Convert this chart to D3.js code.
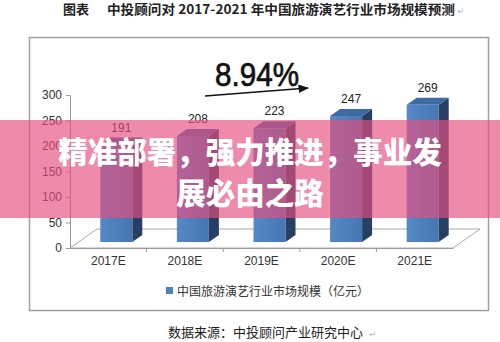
<!DOCTYPE html>
<html><head><meta charset="utf-8">
<script src="https://cdn.jsdelivr.net/npm/d3@7"></script>
<style>html,body{margin:0;padding:0;background:#fff;}svg{display:block;}</style>
</head><body>
<script>
const categories = ["2017E","2018E","2019E","2020E","2021E"];
const values = [191, 208, 223, 247, 269];
const yTicks = [0, 50, 100, 150, 200, 250, 300];
const titleLead = "图表";
const titleText = "中投顾问对 2017-2021 年中国旅游演艺行业市场规模预测";
const growthText = "8.94%";
const legendText = "中国旅游演艺行业市场规模（亿元）";
const sourceText = "数据来源：中投顾问产业研究中心";
const bannerLines = ["精准部署，强力推进，事业发", "展必由之路"];

const W = 500, H = 342;
const svg = d3.select("body").append("svg").attr("width", W).attr("height", H);

// frame
svg.append("rect").attr("x", 29.5).attr("y", 37.5).attr("width", 459).attr("height", 273)
  .attr("fill", "#fff").attr("stroke", "#a0a0a0").attr("stroke-width", 1.5);

// title
svg.append("text").attr("x", 63).attr("y", 14)
  .attr("font-family", "'Noto Sans CJK SC', sans-serif").attr("font-weight", 700)
  .attr("font-size", 13).attr("fill", "#222").text(titleLead);
svg.append("text").attr("x", 107).attr("y", 14)
  .attr("font-family", "'Noto Sans CJK SC', sans-serif").attr("font-weight", 700)
  .attr("font-size", 13).attr("fill", "#222").attr("textLength", 348).attr("lengthAdjust", "spacingAndGlyphs")
  .text(titleText);
svg.append("text").attr("x", 457).attr("y", 14).attr("font-size", 9).attr("fill", "#bbb")
  .attr("font-family", "'DejaVu Sans', sans-serif").text("↵");

// scales
const floorDx = 27, floorDy = -19;
const x = d3.scaleBand().domain(categories).range([70, 453]).padding(0);
const y = d3.scaleLinear().domain([0, 300]).range([248, 95]);
const barShiftX = 8, barShiftY = -6;
const barW = 32, capDx = 10, capDy = -7;

// y axis
const yAxis = svg.append("g").attr("transform", "translate(70,0)")
  .call(d3.axisLeft(y).tickValues(yTicks).tickSize(4).tickPadding(4));
yAxis.select(".domain").attr("stroke", "#999");
yAxis.selectAll(".tick line").attr("stroke", "#999");
yAxis.selectAll("text").attr("font-family", "'Liberation Sans', Arial, sans-serif")
  .attr("font-size", 12).attr("fill", "#333");

// floor
const floor = svg.append("g").attr("fill", "none").attr("stroke", "#aaa").attr("stroke-width", 1);
floor.append("path").attr("fill", "#fff").attr("d",
  `M${x.range()[0]},${y(0)} L${x.range()[1]},${y(0)} L${x.range()[1] + floorDx},${y(0) + floorDy} L${x.range()[0] + floorDx},${y(0) + floorDy} Z`);

// x axis ticks / labels
const xAxis = svg.append("g").attr("transform", `translate(0,${y(0)})`)
  .call(d3.axisBottom(x).tickSize(0).tickPadding(8));
xAxis.select(".domain").attr("stroke", "#999");
xAxis.selectAll("text").attr("font-family", "'Liberation Sans', Arial, sans-serif")
  .attr("font-size", 12).attr("fill", "#333");
svg.append("g").selectAll("line").data(categories.slice(1)).join("line")
  .attr("x1", d => x(d)).attr("x2", d => x(d)).attr("y1", y(0)).attr("y2", y(0) + 4)
  .attr("stroke", "#999");

// bars
const defs = svg.append("defs");
const g1 = defs.append("linearGradient").attr("id", "front").attr("x1", 0).attr("x2", 1);
g1.append("stop").attr("offset", 0).attr("stop-color", "#5589c6");
g1.append("stop").attr("offset", 1).attr("stop-color", "#4676b2");

const bars = svg.append("g");
categories.forEach((c, i) => {
  const v = values[i];
  const x0 = x(c) + x.bandwidth() / 2 - barW / 2 + barShiftX;
  const yb = y(0) + barShiftY;
  const yt = y(v) + barShiftY;
  const g = bars.append("g");
  g.append("path").attr("fill", "#263f63").attr("d",
    `M${x0 + barW},${yt} L${x0 + barW + capDx},${yt + capDy} L${x0 + barW + capDx},${yb + capDy} L${x0 + barW},${yb} Z`);
  g.append("path").attr("fill", "#3d6aa2").attr("d",
    `M${x0},${yt} L${x0 + capDx},${yt + capDy} L${x0 + barW + capDx},${yt + capDy} L${x0 + barW},${yt} Z`);
  g.append("rect").attr("x", x0).attr("y", yt).attr("width", barW).attr("height", yb - yt)
    .attr("fill", "url(#front)");
  svg.append("text").attr("x", x0 + barW / 2 + capDx / 2).attr("y", yt + capDy - 6)
    .attr("text-anchor", "middle").attr("font-family", "'Liberation Sans', Arial, sans-serif")
    .attr("font-size", 12).attr("fill", "#222").text(v);
});

// growth annotation
svg.append("text").attr("x", 215).attr("y", 86).attr("textLength", 84).attr("lengthAdjust", "spacingAndGlyphs")
  .attr("font-family", "'Liberation Sans', Arial, sans-serif").attr("font-size", 33)
  .attr("fill", "#111").attr("stroke", "#111").attr("stroke-width", 0.7).text(growthText);
defs.append("marker").attr("id", "arr").attr("viewBox", "0 0 10 10").attr("refX", 9).attr("refY", 5)
  .attr("markerWidth", 7).attr("markerHeight", 7).attr("orient", "auto")
  .append("path").attr("d", "M0,1 L10,5 L0,9 Z").attr("fill", "#111");
svg.append("line").attr("x1", 205).attr("y1", 96).attr("x2", 308).attr("y2", 88)
  .attr("stroke", "#111").attr("stroke-width", 1.5).attr("marker-end", "url(#arr)");

// legend
svg.append("rect").attr("x", 166).attr("y", 287).attr("width", 7).attr("height", 7).attr("fill", "#4f81bd");
svg.append("text").attr("x", 177).attr("y", 295.5)
  .attr("font-family", "'Noto Sans CJK SC', sans-serif").attr("font-size", 12).attr("fill", "#333")
  .text(legendText);

// source
svg.append("text").attr("x", 168).attr("y", 337)
  .attr("font-family", "'Noto Sans CJK SC', sans-serif").attr("font-size", 13).attr("fill", "#222")
  .text(sourceText);
svg.append("text").attr("x", 369).attr("y", 337).attr("font-size", 9).attr("fill", "#bbb")
  .attr("font-family", "'DejaVu Sans', sans-serif").text("↵");

// banner overlay
svg.append("rect").attr("x", 0).attr("y", 120).attr("width", W).attr("height", 98)
  .attr("fill", "rgb(229,78,126)").attr("fill-opacity", 0.66);
svg.append("g").selectAll("text").data(bannerLines).join("text")
  .attr("x", 250).attr("y", (d, i) => 163 + i * 41)
  .attr("text-anchor", "middle").attr("font-family", "'Noto Sans CJK SC', sans-serif")
  .attr("font-weight", 900).attr("font-size", 29.5).attr("fill", "#fff")
  .text(d => d);
</script>
</body></html>
